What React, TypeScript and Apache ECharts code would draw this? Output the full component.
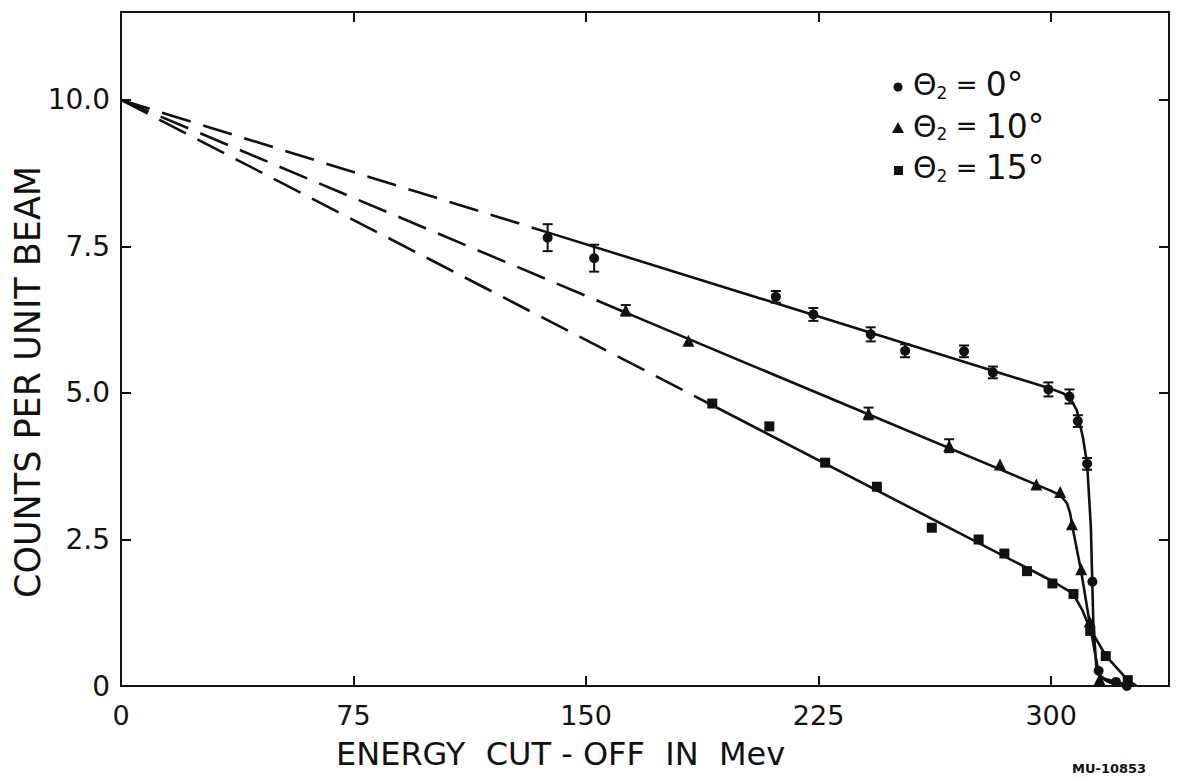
import React, { useEffect, useRef } from "react";
import * as echarts from "echarts";

// ---- data ----
const xTicks = [0, 75, 150, 225, 300];
const yTicks = [0, 2.5, 5.0, 7.5, 10.0];

// theta2 = 0 deg (circles)
const circleX = [137.6, 152.6, 211.2, 223.3, 241.8, 252.9, 271.9, 281.2, 299.1, 305.9, 308.6, 311.6, 313.3, 315.3, 320.9, 324.4];
const circleY = [7.65, 7.30, 6.64, 6.34, 6.00, 5.72, 5.71, 5.35, 5.06, 4.94, 4.52, 3.79, 1.78, 0.26, 0.07, 0.0];
const circleErr = [0.23, 0.23, 0.10, 0.11, 0.12, 0.11, 0.10, 0.10, 0.12, 0.12, 0.10, 0.10, 0, 0, 0, 0];

// theta2 = 10 deg (triangles)
const triX = [162.8, 183.0, 241.1, 267.1, 283.5, 295.2, 302.9, 306.7, 309.7, 312.4, 315.6];
const triY = [6.41, 5.89, 4.65, 4.10, 3.78, 3.44, 3.31, 2.76, 1.99, 1.10, 0.11];
const triErr = [0.09, 0, 0.10, 0.11, 0, 0, 0, 0, 0, 0, 0];

// theta2 = 15 deg (squares)
const sqX = [190.7, 209.1, 227.1, 243.8, 261.5, 276.6, 284.9, 292.2, 300.4, 307.2, 312.6, 317.6, 324.7];
const sqY = [4.82, 4.43, 3.81, 3.40, 2.70, 2.50, 2.26, 1.96, 1.75, 1.57, 0.94, 0.51, 0.10];

// hand-drawn curves (vertices)
const circleDashX = [0, 137.6];
const circleDashY = [10, 7.74];
const circleFitX = [137.6, 300, 304, 306.5, 308.3, 310.2, 311.6, 312.8, 313.6, 314.7, 317, 320.9, 326.5];
const circleFitY = [7.74, 5.07, 4.99, 4.88, 4.7, 4.25, 3.79, 2.71, 1.07, 0.22, 0.13, 0.07, 0];

const triDashX = [0, 162.8];
const triDashY = [10, 6.37];
const triFitX = [162.8, 300, 303, 305.1, 306.1, 306.7, 309.7, 312.4, 314, 315.6, 319, 323];
const triFitY = [6.37, 3.33, 3.25, 3.12, 2.95, 2.76, 1.95, 1.08, 0.6, 0.15, 0.06, 0];

const sqDashX = [0, 190.7];
const sqDashY = [10, 4.79];
const sqFitX = [190.7, 300, 307, 310, 312.6, 317.6, 324.7, 327.6];
const sqFitY = [4.79, 1.8, 1.58, 1.3, 0.97, 0.52, 0.1, 0];

const legendLabels = ["0°", "10°", "15°"];

const zip = (xs: number[], ys: number[]) => xs.map((x, i) => [x, ys[i]]);
const zip3 = (xs: number[], ys: number[], es: number[]) => xs.map((x, i) => [x, ys[i], es[i]]);

const INK = "#111111";
const FONT = "'DejaVu Sans', 'Liberation Sans', sans-serif";

export default function App() {
  const ref = useRef<HTMLDivElement>(null);

  useEffect(() => {
    if (!ref.current) return;
    const chart = echarts.init(ref.current, undefined, { renderer: "svg" });

    const lineBase = (data: number[][], dashed: boolean) => ({
      type: "line",
      data,
      showSymbol: false,
      symbol: "none",
      smooth: false,
      silent: true,
      lineStyle: { color: INK, width: 2.6, type: dashed ? [30, 13] : "solid" },
      z: 2,
    });

    const errSeries = (data: number[][]) => ({
      type: "custom",
      data,
      encode: { x: 0, y: 1 },
      z: 4,
      renderItem: (params: any, api: any) => {
        const x = api.value(0);
        const y = api.value(1);
        const e = api.value(2);
        if (!e) return null;
        const top = api.coord([x, y + e]);
        const bot = api.coord([x, y - e]);
        const w = 5;
        const st = { stroke: INK, lineWidth: 2 };
        return {
          type: "group",
          children: [
            { type: "line", shape: { x1: top[0], y1: top[1], x2: bot[0], y2: bot[1] }, style: st },
            { type: "line", shape: { x1: top[0] - w, y1: top[1], x2: top[0] + w, y2: top[1] }, style: st },
            { type: "line", shape: { x1: bot[0] - w, y1: bot[1], x2: bot[0] + w, y2: bot[1] }, style: st },
          ],
        };
      },
    });

    const axisCommon = {
      type: "value",
      axisLine: { show: true, onZero: false, lineStyle: { color: INK, width: 2 } },
      axisTick: { show: true, inside: true, length: 10, lineStyle: { color: INK, width: 2 } },
      splitLine: { show: false },
    };

    const legendRows = legendLabels.map((lab, i) => ({
      type: "text",
      left: 913,
      top: 68 + i * 41.5,
      style: {
        text: `{t|Θ}{s|2}{e| = }{v|${lab}}`,
        fill: INK,
        rich: {
          t: { fontSize: 30, fontFamily: FONT, fill: INK },
          s: { fontSize: 17, fontFamily: FONT, fill: INK, padding: [16, 0, 0, 0] },
          e: { fontSize: 26, fontFamily: FONT, fill: INK },
          v: { fontSize: 33, fontFamily: FONT, fill: INK },
        },
      },
    }));

    const scatter = (name: string, data: number[][], symbol: string, size: number) => ({
      name,
      type: "scatter",
      data,
      symbol,
      symbolSize: size,
      itemStyle: { color: INK, opacity: 1 },
      z: 5,
    });

    chart.setOption({
      animation: false,
      backgroundColor: "#ffffff",
      grid: { left: 121, right: 12, top: 12, bottom: 95, containLabel: false },
      xAxis: [
        {
          ...axisCommon,
          position: "bottom",
          min: 0,
          max: 338,
          interval: 75,
          axisLabel: {
            show: true,
            margin: 16,
            fontSize: 27,
            fontFamily: FONT,
            color: INK,
            showMaxLabel: false,
            formatter: (v: number) => (xTicks.includes(v) ? String(v) : ""),
          },
        },
        {
          ...axisCommon,
          position: "top",
          min: 0,
          max: 338,
          interval: 75,
          axisLabel: { show: false },
        },
      ],
      yAxis: [
        {
          ...axisCommon,
          position: "left",
          min: 0,
          max: 11.5,
          interval: 2.5,
          axisLabel: {
            show: true,
            margin: 11,
            fontSize: 28,
            fontFamily: FONT,
            color: INK,
            showMaxLabel: false,
            formatter: (v: number) => (yTicks.includes(v) ? (v === 0 ? "0" : v.toFixed(1)) : ""),
          },
        },
        {
          ...axisCommon,
          position: "right",
          min: 0,
          max: 11.5,
          interval: 2.5,
          axisLabel: { show: false },
        },
      ],
      series: [
        lineBase(zip(circleDashX, circleDashY), true),
        lineBase(zip(circleFitX, circleFitY), false),
        lineBase(zip(triDashX, triDashY), true),
        lineBase(zip(triFitX, triFitY), false),
        lineBase(zip(sqDashX, sqDashY), true),
        lineBase(zip(sqFitX, sqFitY), false),
        errSeries(zip3(circleX, circleY, circleErr)),
        errSeries(zip3(triX, triY, triErr)),
        scatter("Θ2 = 0°", zip(circleX, circleY), "circle", 10),
        scatter("Θ2 = 10°", zip(triX, triY), "triangle", 12),
        scatter("Θ2 = 15°", zip(sqX, sqY), "rect", 10),
      ],
      graphic: [
        { type: "circle", shape: { cx: 898, cy: 87, r: 4.5 }, style: { fill: INK } },
        { type: "polygon", shape: { points: [[898, 122], [904, 133], [892, 133]] }, style: { fill: INK } },
        { type: "rect", shape: { x: 894, y: 166, width: 9, height: 9 }, style: { fill: INK } },
        ...legendRows,
        {
          type: "text",
          left: 336,
          top: 738,
          style: { text: "ENERGY  CUT - OFF  IN  Mev", fontSize: 32, fontFamily: FONT, fill: INK },
        },
        {
          type: "text",
          x: 10,
          y: 598,
          rotation: Math.PI / 2,
          style: { text: "COUNTS PER UNIT BEAM", fontSize: 35, fontFamily: FONT, fill: INK },
        },
        {
          type: "text",
          left: 1072,
          top: 762,
          style: { text: "MU-10853", fontSize: 13, fontWeight: "bold", fontFamily: FONT, fill: INK },
        },
      ],
    });

    return () => chart.dispose();
  }, []);

  return (
    <div
      ref={ref}
      style={{ position: "fixed", left: 0, top: 0, width: 1181, height: 781, background: "#fff" }}
    />
  );
}
